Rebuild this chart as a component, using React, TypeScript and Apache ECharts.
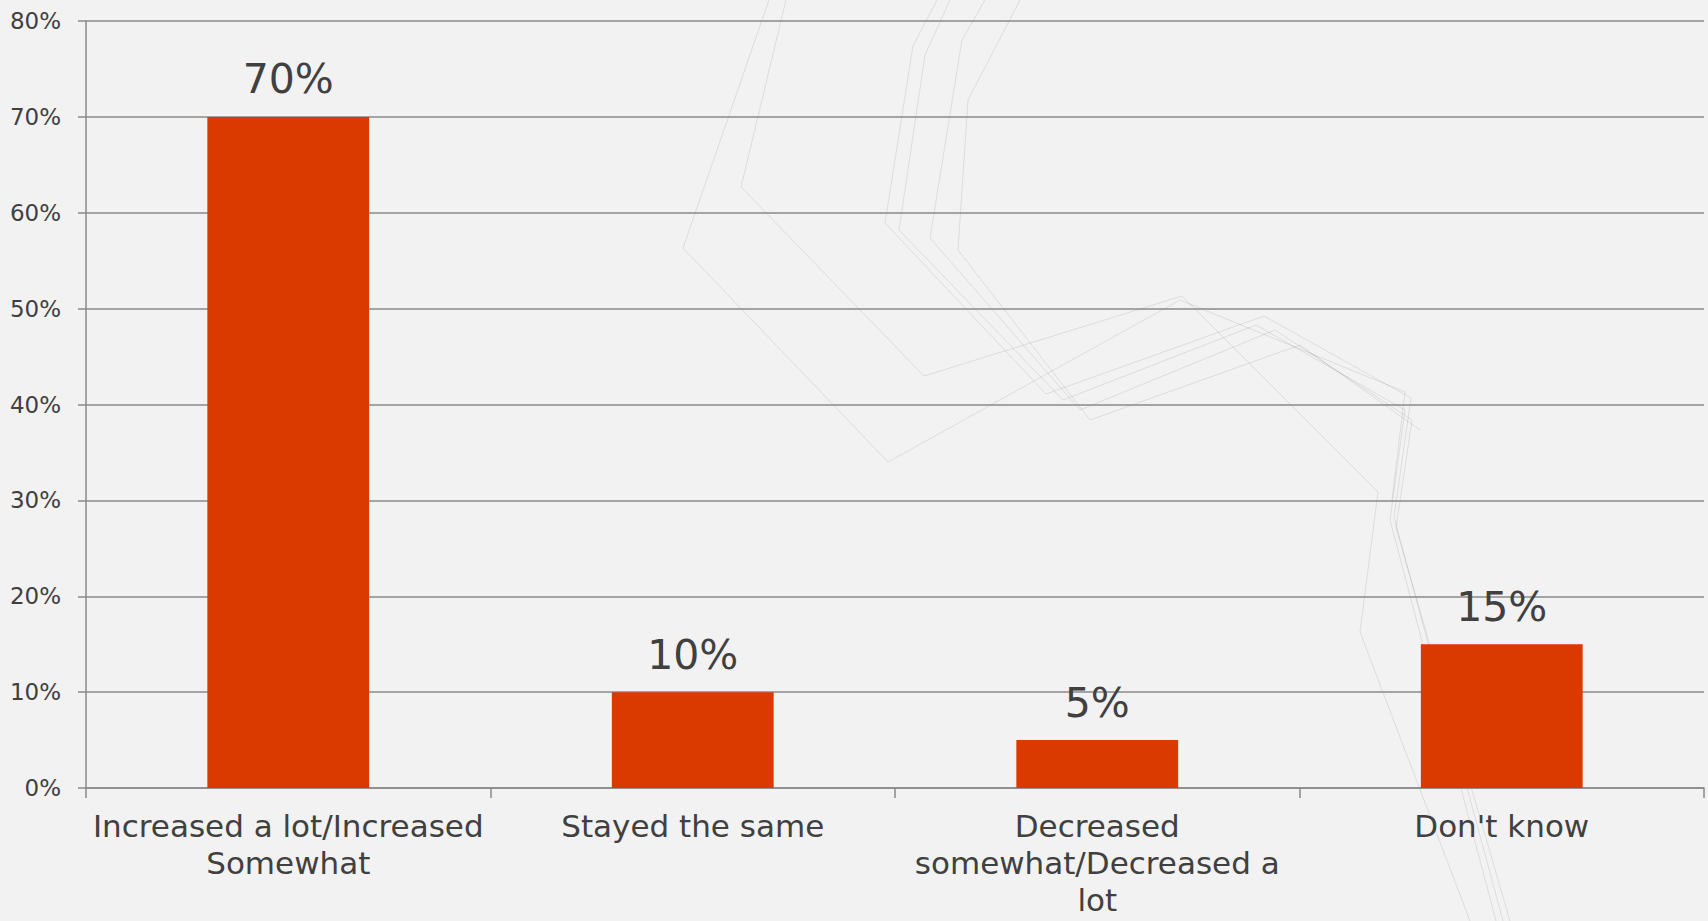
import React, { useEffect, useRef } from "react";
import * as echarts from "echarts";

const categories: string[] = [
  "Increased a lot/Increased\nSomewhat",
  "Stayed the same",
  "Decreased\nsomewhat/Decreased a\nlot",
  "Don't know",
];
const values: number[] = [70, 10, 5, 15];
const yTicks = { min: 0, max: 80, interval: 10 };

// faint decorative background strokes (template texture), in page pixels
const decoLines: number[][][] = [
  [[769, 0], [683, 248], [888, 462], [1180, 300], [1405, 392], [1392, 500]],
  [[786, 0], [741, 187], [924, 376], [1182, 296], [1378, 492], [1360, 632], [1470, 921]],
  [[937, 0], [913, 46], [885, 223], [1046, 394], [1264, 316], [1411, 398], [1394, 517], [1503, 921]],
  [[950, 0], [925, 55], [899, 230], [1063, 400], [1256, 325], [1405, 410], [1390, 520], [1496, 921]],
  [[985, 0], [962, 40], [930, 238], [1080, 410], [1275, 330], [1412, 420], [1396, 528], [1510, 921]],
  [[1020, 0], [968, 100], [958, 250], [1090, 420], [1300, 345], [1420, 430]],
];

export default function App() {
  const ref = useRef<HTMLDivElement>(null);
  useEffect(() => {
    if (!ref.current) return;
    const chart = echarts.init(ref.current, null, { renderer: "svg" });
    const font = "'DejaVu Sans', sans-serif";
    const grey = "#8a8a8a";
    const text = "#404040";
    chart.setOption({
      animation: false,
      backgroundColor: "#f2f2f2",
      textStyle: { fontFamily: font },
      graphic: decoLines.map((pts) => ({
        type: "polyline",
        z: -10,
        silent: true,
        shape: { points: pts },
        style: { fill: "none", stroke: "rgba(0,0,0,0.09)", lineWidth: 1 },
      })),
      grid: {
        left: 86,
        right: 4,
        top: 21,
        bottom: 133,
        containLabel: false,
        outerBoundsMode: "none",
      },
      xAxis: {
        type: "category",
        data: categories,
        axisLine: { show: true, lineStyle: { color: grey, width: 1.5 } },
        axisTick: { show: true, length: 10, alignWithLabel: false, lineStyle: { color: grey, width: 1.5 } },
        axisLabel: {
          interval: 0,
          color: text,
          fontFamily: font,
          fontSize: 31,
          lineHeight: 37,
          margin: 19,
        },
      },
      yAxis: {
        type: "value",
        min: yTicks.min,
        max: yTicks.max,
        interval: yTicks.interval,
        axisLine: { show: true, lineStyle: { color: grey, width: 1.5 } },
        axisTick: { show: true, length: 8, lineStyle: { color: grey, width: 1.5 } },
        splitLine: { show: true, lineStyle: { color: grey, width: 1.5 } },
        axisLabel: {
          formatter: "{value}%",
          color: text,
          fontFamily: font,
          fontSize: 23,
          margin: 25,
        },
      },
      series: [
        {
          type: "bar",
          data: values,
          barWidth: "40%",
          itemStyle: { color: "#da3900" },
          label: {
            show: true,
            position: "top",
            distance: 17,
            formatter: "{c}%",
            color: text,
            fontFamily: font,
            fontSize: 41,
          },
        },
      ],
    });
    return () => chart.dispose();
  }, []);
  return (
    <div
      ref={ref}
      style={{ position: "fixed", left: 0, top: 0, width: 1708, height: 921 }}
    />
  );
}
